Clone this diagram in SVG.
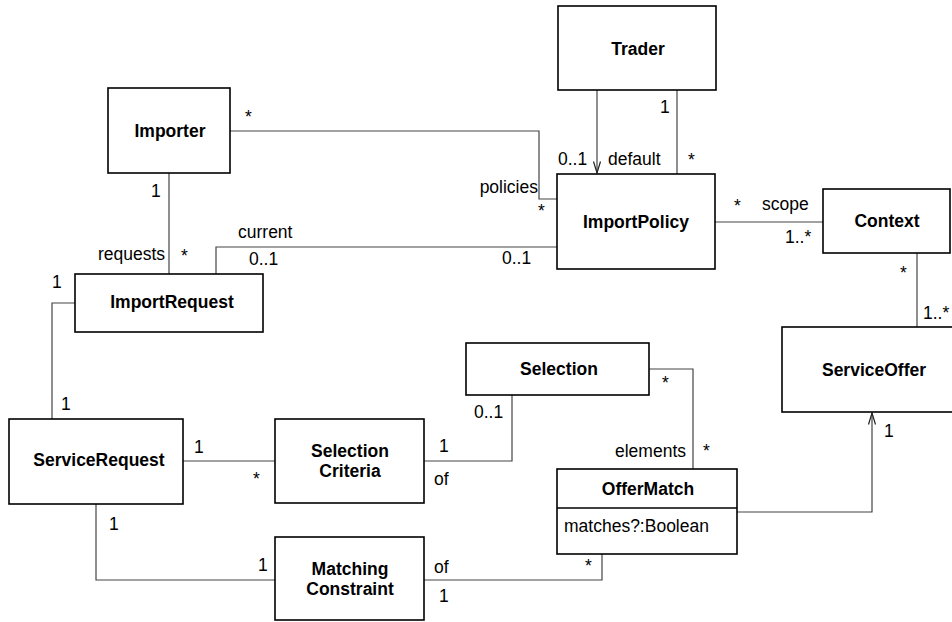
<svg xmlns="http://www.w3.org/2000/svg" width="952" height="622" viewBox="0 0 952 622">
<style>
.box{fill:#fff;stroke:#000;stroke-width:1.6}
.cls{font-family:"Liberation Sans",Arial,sans-serif;font-size:17.5px;font-weight:bold;fill:#000;text-anchor:middle}
.lbl{font-family:"Liberation Sans",Arial,sans-serif;font-size:17.5px;fill:#000}
.end{text-anchor:end}
.con{fill:none;stroke:#444;stroke-width:1.2}
</style>
<defs>
<marker id="open" markerUnits="userSpaceOnUse" markerWidth="14" markerHeight="10" refX="12" refY="5" orient="auto" viewBox="0 0 14 10">
<path d="M0.5,1.5 L12,5 L0.5,8.5" fill="none" stroke="#222" stroke-width="1.2"/>
</marker>
</defs>
<rect width="952" height="622" fill="#fff"/>
<g id="connectors">
<polyline class="con" points="230,131 539,131 539,199 557,199"/>
<polyline class="con" points="169,173 169,274"/>
<polyline class="con" points="216,274 216,247 557,247"/>
<polyline class="con" points="597,90 597,173" marker-end="url(#open)"/>
<polyline class="con" points="677,90 677,174"/>
<polyline class="con" points="715,222 823,222"/>
<polyline class="con" points="917,253 917,327"/>
<polyline class="con" points="75,303 52,303 52,419"/>
<polyline class="con" points="183,461 275,461"/>
<polyline class="con" points="96,504 96,580 275,580"/>
<polyline class="con" points="424,461 512,461 512,395"/>
<polyline class="con" points="649,369 693,369 693,469"/>
<polyline class="con" points="737,512 872,512 872,413" marker-end="url(#open)"/>
<polyline class="con" points="424,580 602,580 602,554"/>
</g>
<g id="labels">
<text class="lbl" x="245" y="123">*</text>
<text class="lbl" x="151" y="197">1</text>
<text class="lbl end" x="165" y="260">requests</text>
<text class="lbl" x="181" y="262">*</text>
<text class="lbl" x="238" y="238">current</text>
<text class="lbl" x="249" y="265">0..1</text>
<text class="lbl" x="558" y="165">0..1</text>
<text class="lbl" x="608" y="165">default</text>
<text class="lbl" x="660" y="113">1</text>
<text class="lbl" x="688" y="166">*</text>
<text class="lbl end" x="538" y="193">policies</text>
<text class="lbl" x="538" y="217">*</text>
<text class="lbl" x="502" y="264">0..1</text>
<text class="lbl" x="734" y="212">*</text>
<text class="lbl" x="762" y="210">scope</text>
<text class="lbl" x="785" y="243">1..*</text>
<text class="lbl" x="900" y="279">*</text>
<text class="lbl" x="923" y="319">1..*</text>
<text class="lbl" x="884" y="437">1</text>
<text class="lbl" x="52" y="288">1</text>
<text class="lbl" x="61" y="410">1</text>
<text class="lbl" x="194" y="453">1</text>
<text class="lbl" x="253" y="485">*</text>
<text class="lbl" x="109" y="530">1</text>
<text class="lbl" x="258" y="571">1</text>
<text class="lbl" x="474" y="418">0..1</text>
<text class="lbl" x="439" y="452">1</text>
<text class="lbl" x="434" y="485">of</text>
<text class="lbl" x="434" y="573">of</text>
<text class="lbl" x="439" y="602">1</text>
<text class="lbl" x="662" y="389">*</text>
<text class="lbl end" x="686" y="457">elements</text>
<text class="lbl" x="703" y="457">*</text>
<text class="lbl" x="585" y="572">*</text>
</g>
<g id="Importer"><rect class="box" x="108" y="88" width="122" height="85"/><text class="cls" x="170" y="137">Importer</text></g>
<g id="Trader"><rect class="box" x="558" y="6" width="158" height="84"/><text class="cls" x="638" y="55">Trader</text></g>
<g id="ImportPolicy"><rect class="box" x="557" y="174" width="158" height="95"/><text class="cls" x="636" y="228">ImportPolicy</text></g>
<g id="Context"><rect class="box" x="823" y="189" width="127" height="64"/><text class="cls" x="887" y="227">Context</text></g>
<g id="ServiceOffer"><rect class="box" x="782" y="327" width="184" height="85"/><text class="cls" x="874" y="376">ServiceOffer</text></g>
<g id="ImportRequest"><rect class="box" x="75" y="274" width="188" height="58"/><text class="cls" x="172" y="308">ImportRequest</text></g>
<g id="ServiceRequest"><rect class="box" x="9" y="419" width="174" height="85"/><text class="cls" x="99" y="466">ServiceRequest</text></g>
<g id="SelectionCriteria"><rect class="box" x="275" y="419" width="149" height="84"/><text class="cls" x="350" y="457">Selection</text><text class="cls" x="350" y="477">Criteria</text></g>
<g id="Selection"><rect class="box" x="466" y="343" width="183" height="52"/><text class="cls" x="559" y="375">Selection</text></g>
<g id="MatchingConstraint"><rect class="box" x="275" y="537" width="149" height="83"/><text class="cls" x="350" y="575">Matching</text><text class="cls" x="350" y="595">Constraint</text></g>
<g id="OfferMatch"><rect class="box" x="557" y="469" width="180" height="85"/><line x1="557" y1="508" x2="737" y2="508" stroke="#000" stroke-width="1.6"/><text class="cls" x="648" y="495">OfferMatch</text><text class="lbl" x="564" y="532">matches?:Boolean</text></g>
</svg>
